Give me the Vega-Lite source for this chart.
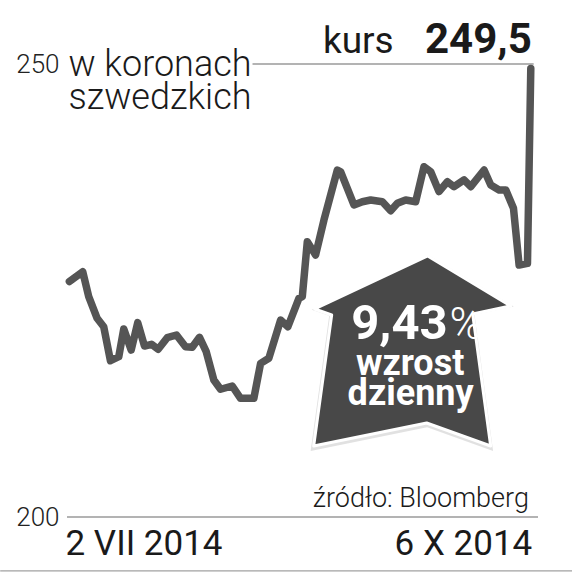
{
  "$schema": "https://vega.github.io/schema/vega-lite/v6.json",
  "autosize": {"type": "none"},
  "padding": {"left": 67, "top": 64, "right": 34, "bottom": 56},
  "width": 471,
  "height": 453,
  "background": "white",
  "config": {"view": {"stroke": null}},
  "datasets": {
    "kurs": [
      {"dzien": 0, "cena": 226.0},
      {"dzien": 2.77, "cena": 227.08},
      {"dzien": 4.02, "cena": 224.32},
      {"dzien": 5.77, "cena": 221.93},
      {"dzien": 7.14, "cena": 221.0},
      {"dzien": 8.54, "cena": 217.25},
      {"dzien": 10.27, "cena": 217.69},
      {"dzien": 11.31, "cena": 220.75},
      {"dzien": 12.85, "cena": 218.43},
      {"dzien": 14.22, "cena": 221.45},
      {"dzien": 15.62, "cena": 218.87},
      {"dzien": 17.08, "cena": 219.06},
      {"dzien": 18.47, "cena": 218.51},
      {"dzien": 20.35, "cena": 219.79},
      {"dzien": 22.28, "cena": 220.09},
      {"dzien": 24.16, "cena": 218.8},
      {"dzien": 25.55, "cena": 218.73},
      {"dzien": 27.07, "cena": 219.83},
      {"dzien": 28.47, "cena": 218.25},
      {"dzien": 30.05, "cena": 215.12},
      {"dzien": 31.45, "cena": 214.1},
      {"dzien": 33.88, "cena": 214.46},
      {"dzien": 35.61, "cena": 213.1},
      {"dzien": 38.38, "cena": 213.1},
      {"dzien": 39.78, "cena": 216.96},
      {"dzien": 41.5, "cena": 217.52},
      {"dzien": 43.94, "cena": 221.74},
      {"dzien": 45.46, "cena": 221.0},
      {"dzien": 47.75, "cena": 224.14},
      {"dzien": 48.46, "cena": 224.32},
      {"dzien": 49.5, "cena": 230.39},
      {"dzien": 51.23, "cena": 228.92},
      {"dzien": 52.96, "cena": 232.78},
      {"dzien": 55.75, "cena": 238.3},
      {"dzien": 56.43, "cena": 238.11},
      {"dzien": 59.2, "cena": 234.44},
      {"dzien": 60.95, "cena": 234.8},
      {"dzien": 62.68, "cena": 234.99},
      {"dzien": 65.12, "cena": 234.8},
      {"dzien": 66.85, "cena": 233.81},
      {"dzien": 68.24, "cena": 234.62},
      {"dzien": 69.97, "cena": 234.99},
      {"dzien": 72.05, "cena": 234.8},
      {"dzien": 73.78, "cena": 238.66},
      {"dzien": 75.18, "cena": 238.11},
      {"dzien": 76.9, "cena": 235.91},
      {"dzien": 78.65, "cena": 237.01},
      {"dzien": 80.03, "cena": 236.46},
      {"dzien": 82.11, "cena": 237.2},
      {"dzien": 83.51, "cena": 236.46},
      {"dzien": 86.28, "cena": 238.3},
      {"dzien": 87.67, "cena": 236.64},
      {"dzien": 89.4, "cena": 236.09},
      {"dzien": 90.8, "cena": 236.09},
      {"dzien": 92.4, "cena": 234.07},
      {"dzien": 93.57, "cena": 227.81},
      {"dzien": 95.31, "cena": 228.0},
      {"dzien": 96, "cena": 249.5}
    ],
    "siatka": [
      {"od": -0.5, "do": 97.5, "poziom": 200},
      {"od": 38.1, "do": 96.6, "poziom": 250}
    ]
  },
  "layer": [
    {
      "data": {"name": "siatka"},
      "mark": {"type": "rule", "color": "#9a9a9a", "strokeWidth": 1.5},
      "encoding": {
        "x": {"field": "od", "type": "quantitative", "scale": {"domain": [-0.5, 97.5], "nice": false, "zero": false},
          "axis": {"values": [-0.5, 96.2], "labelExpr": "datum.value < 50 ? '2 VII 2014' : '6 X 2014'",
            "labelAlign": {"expr": "datum.value < 50 ? 'left' : 'right'"},
            "labelOffset": {"expr": "datum.value < 50 ? -2 : 0"},
            "labelFont": "Roboto", "labelFontSize": 35, "labelColor": "#1a1a1a",
            "labelBaseline": "alphabetic", "labelPadding": 37, "ticks": false, "domain": false, "grid": false, "title": null, "labelOverlap": false, "labelBound": false, "labelFlush": false}},
        "x2": {"field": "do"},
        "y": {"field": "poziom", "type": "quantitative", "scale": {"domain": [200, 250], "nice": false, "zero": false},
          "axis": {"values": [200, 250], "labelFont": "Roboto", "labelFontWeight": 300, "labelFontSize": 26, "labelColor": "#222",
            "labelPadding": 8, "ticks": false, "domain": false, "grid": false, "title": null}}
      }
    },
    {
      "data": {"values": [{"poziom": 194.05, "od": -14.4, "do": 104.8}]},
      "mark": {"type": "rule", "color": "#8a8a8a", "strokeWidth": 1},
      "encoding": {
        "x": {"field": "od", "type": "quantitative"},
        "x2": {"field": "do"},
        "y": {"field": "poziom", "type": "quantitative"}
      }
    },
    {
      "data": {"name": "kurs"},
      "mark": {"type": "line", "color": "#555555", "strokeWidth": 7.5, "strokeJoin": "round", "strokeCap": "round"},
      "encoding": {
        "x": {"field": "dzien", "type": "quantitative"},
        "y": {"field": "cena", "type": "quantitative"}
      }
    },
    {
      "data": {"values": [{"dzien": 71.32, "cena": 218.05}]},
      "mark": {"type": "point", "filled": true, "size": 42500, "color": "#d9d9d9", "opacity": 0.8,
        "shape": "M0.155,-0.955 L-0.975,-0.425 L-0.805,-0.365 L-0.985,0.945 L0.145,0.715 L0.785,0.945 L0.605,-0.375 L0.985,-0.455 Z"},
      "encoding": {
        "x": {"field": "dzien", "type": "quantitative"},
        "y": {"field": "cena", "type": "quantitative"}
      }
    },
    {
      "data": {"values": [{"dzien": 71.32, "cena": 218.27}]},
      "mark": {"type": "point", "filled": true, "size": 40000, "fill": "#484848", "stroke": "white", "strokeWidth": 3, "opacity": 1, "strokeJoin": "round",
        "shape": "M0.155,-0.955 L-0.975,-0.425 L-0.805,-0.365 L-0.985,0.945 L0.145,0.715 L0.785,0.945 L0.605,-0.375 L0.985,-0.455 Z"},
      "encoding": {
        "x": {"field": "dzien", "type": "quantitative"},
        "y": {"field": "cena", "type": "quantitative"}
      }
    },
    {
      "data": {"values": [{"tekst": "9,43", "dzien": 78.7, "cena": 219.65}]},
      "mark": {"type": "text", "font": "Roboto", "fontWeight": "bold", "fontSize": 49, "color": "white", "align": "right", "baseline": "alphabetic"},
      "encoding": {
        "x": {"field": "dzien", "type": "quantitative"},
        "y": {"field": "cena", "type": "quantitative"},
        "text": {"field": "tekst"}
      }
    },
    {
      "data": {"values": [{"tekst": "%", "dzien": 79.1, "cena": 219.65}]},
      "mark": {"type": "text", "font": "Roboto", "fontWeight": 300, "fontSize": 44, "color": "white", "align": "left", "baseline": "alphabetic"},
      "encoding": {
        "x": {"field": "dzien", "type": "quantitative"},
        "y": {"field": "cena", "type": "quantitative"},
        "text": {"field": "tekst"}
      }
    },
    {
      "data": {"values": [{"tekst": "wzrost", "dzien": 70.9, "cena": 215.67}, {"tekst": "dzienny", "dzien": 71.0, "cena": 212.36}]},
      "mark": {"type": "text", "font": "Roboto", "fontWeight": "bold", "fontSize": 36, "color": "white", "align": "center", "baseline": "alphabetic"},
      "encoding": {
        "x": {"field": "dzien", "type": "quantitative"},
        "y": {"field": "cena", "type": "quantitative"},
        "text": {"field": "tekst"}
      }
    },
    {
      "data": {"values": [{"tekst": "w koronach", "dzien": -0.21, "cena": 248.7}, {"tekst": "szwedzkich", "dzien": -0.21, "cena": 245.0}]},
      "mark": {"type": "text", "font": "Roboto", "fontWeight": 300, "fontSize": 36, "color": "#1a1a1a", "align": "left", "baseline": "alphabetic"},
      "encoding": {
        "x": {"field": "dzien", "type": "quantitative"},
        "y": {"field": "cena", "type": "quantitative"},
        "text": {"field": "tekst"}
      }
    },
    {
      "data": {"values": [{"tekst": "kurs", "dzien": 67.47, "cena": 251.21}]},
      "mark": {"type": "text", "font": "Roboto", "fontSize": 37, "color": "#1a1a1a", "align": "right", "baseline": "alphabetic"},
      "encoding": {
        "x": {"field": "dzien", "type": "quantitative"},
        "y": {"field": "cena", "type": "quantitative"},
        "text": {"field": "tekst"}
      }
    },
    {
      "data": {"values": [{"tekst": "249,5", "dzien": 96.2, "cena": 251.21}]},
      "mark": {"type": "text", "font": "Roboto", "fontWeight": "bold", "fontSize": 42, "color": "#1a1a1a", "align": "right", "baseline": "alphabetic"},
      "encoding": {
        "x": {"field": "dzien", "type": "quantitative"},
        "y": {"field": "cena", "type": "quantitative"},
        "text": {"field": "tekst"}
      }
    },
    {
      "data": {"values": [{"tekst": "źródło: Bloomberg", "dzien": 95.6, "cena": 201.1}]},
      "mark": {"type": "text", "font": "Roboto", "fontWeight": 300, "fontSize": 27, "color": "#1a1a1a", "align": "right", "baseline": "alphabetic"},
      "encoding": {
        "x": {"field": "dzien", "type": "quantitative"},
        "y": {"field": "cena", "type": "quantitative"},
        "text": {"field": "tekst"}
      }
    }
  ]
}
